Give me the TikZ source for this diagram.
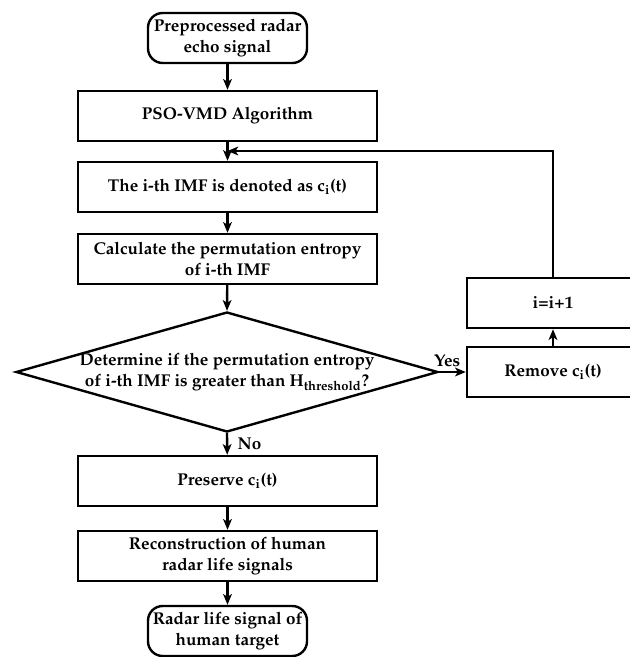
\documentclass[tikz,border=0pt]{standalone}
\usepackage[T1]{fontenc}
\usepackage{mathpazo}
\usetikzlibrary{arrows.meta,shapes.geometric}
\newcommand{\ci}{c\textsubscript{i}(t)}
\begin{document}
\begin{tikzpicture}[x=0.75pt,y=-0.75pt,
  every node/.style={font=\fontsize{12.8}{16}\selectfont\bfseries},
  box/.style={draw,line width=1.8pt,rectangle,minimum width=224.25pt,minimum height=37.5pt,align=center,inner sep=2pt},
  rbox/.style={draw,line width=1.8pt,rectangle,rounded corners=11pt,minimum width=119.25pt,minimum height=37.5pt,align=center,inner sep=1pt},
  sbox/.style={draw,line width=1.8pt,rectangle,minimum width=129pt,minimum height=37.5pt,align=center},
  arr/.style={line width=1.8pt,-{Stealth[length=8pt,width=6.5pt,inset=2pt]}},
  lbl/.style={font=\fontsize{12.8}{16}\selectfont\bfseries,inner sep=1pt}]
\useasboundingbox (0,0) rectangle (629,657);
\node[rbox] (start) at (227.5,38) {Preprocessed radar\\echo signal};
\node[box] (pso) at (227.5,116) {PSO-VMD Algorithm};
\node[box] (imf) at (227.5,187) {The i-th IMF is denoted as \ci};
\node[box] (calc) at (227.5,259) {Calculate the permutation entropy\\of i-th IMF};
\node[diamond,draw,line width=1.8pt,minimum width=316.5pt,minimum height=90pt,inner sep=0pt] (dec) at (227,372) {};
\node[align=center] (dectxt) at (227,372) {Determine if the permutation entropy\\of i-th IMF is greater than H\textsubscript{threshold}?};
\node[box] (pres) at (227.5,481) {Preserve \ci};
\node[box] (rec) at (227.5,556) {Reconstruction of human\\radar life signals};
\node[rbox] (fin) at (227.5,631) {Radar life signal of\\human target};
\node[sbox] (inc) at (553,303) {i=i+1};
\node[sbox] (rem) at (553,372) {Remove \ci};
\coordinate (fb) at (227.5,151);
\draw[arr] (start) -- (pso);
\draw[arr] (pso) -- (imf);
\draw[arr] (imf) -- (calc);
\draw[arr] (calc) -- (dec.north);
\draw[arr] (dec.south) -- node[lbl,anchor=west,xshift=6pt] {No} (pres);
\draw[arr] (pres) -- (rec);
\draw[arr] (rec) -- (fin);
\draw[arr] (dec.east) -- node[lbl,anchor=south,xshift=-4pt,yshift=2pt] {Yes} (rem.west);
\draw[arr] (rem) -- (inc);
\draw[arr] (inc.north) |- (fb);
\end{tikzpicture}
\end{document}
